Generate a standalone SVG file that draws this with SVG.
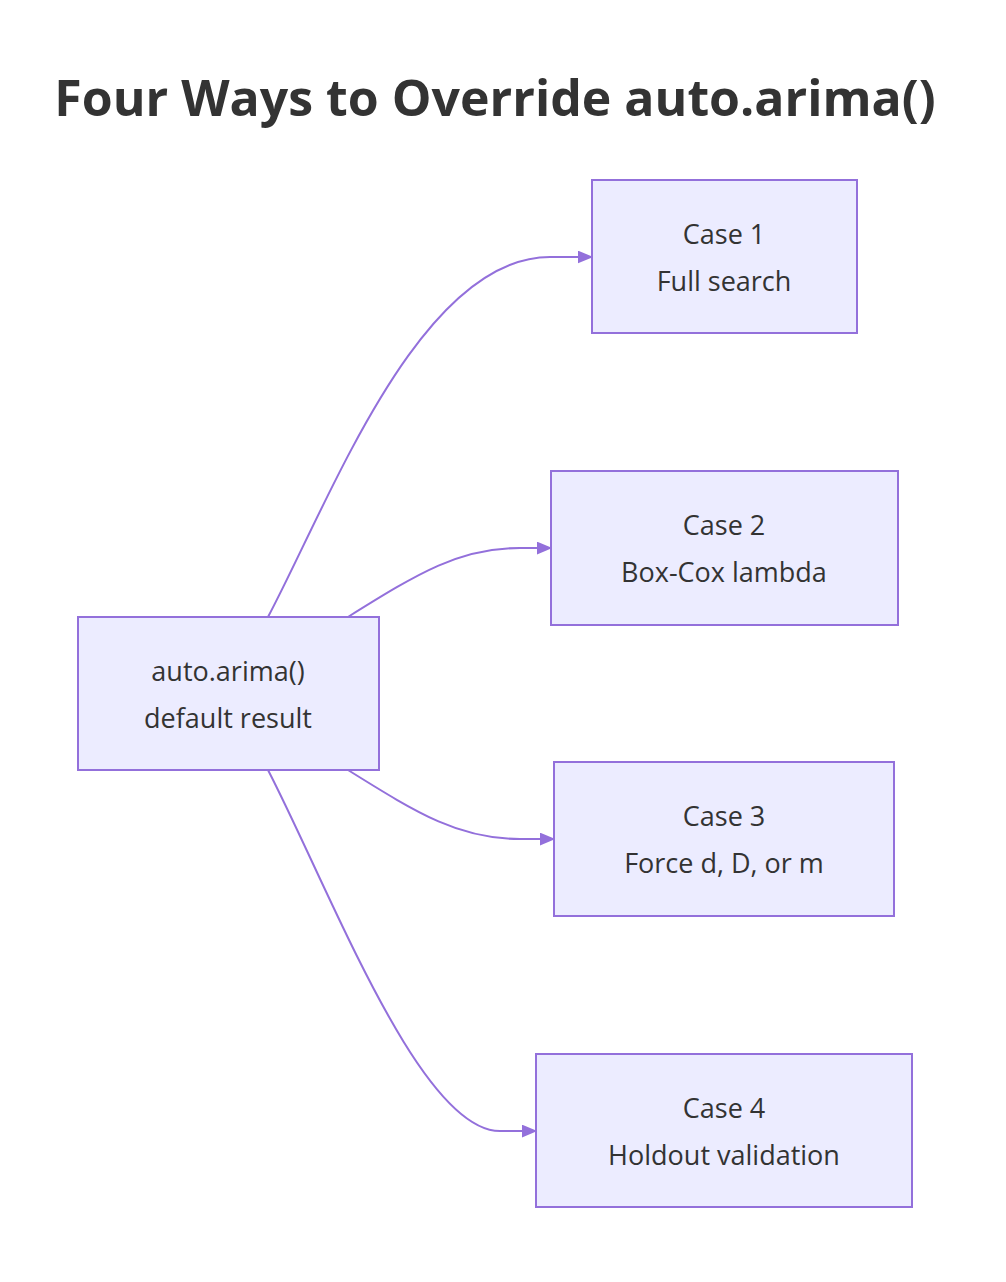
<svg xmlns="http://www.w3.org/2000/svg" width="1006" height="1282" viewBox="0 0 1006 1282">
<style>
.n{fill:#ECECFF;stroke:#9370DB;stroke-width:2}
.t{font-family:"Open Sans","Liberation Sans",sans-serif;font-size:27px;fill:#333;text-anchor:middle}
.e{fill:none;stroke:#9370DB;stroke-width:2}
</style>
<defs><marker id="a" viewBox="0 0 10 10" refX="9" refY="5" markerWidth="8" markerHeight="8" orient="auto" markerUnits="userSpaceOnUse"><path d="M0,0L10,5L0,10z" fill="#9370DB" transform="scale(1)"/></marker>
<marker id="b" viewBox="0 0 12 10" refX="11" refY="5" markerWidth="16" markerHeight="13" orient="auto" markerUnits="userSpaceOnUse"><path d="M0,0L12,5L0,10z" fill="#9370DB"/></marker></defs>
<rect width="1006" height="1282" fill="#fff"/>
<text x="495" y="116" style="font-family:'Open Sans','Liberation Sans',sans-serif;font-size:50px;font-weight:bold;fill:#333;text-anchor:middle">Four Ways to Override auto.arima()</text>
<g id="edges">
<path class="e" marker-end="url(#b)" d="M268,617 C330,500 420,257 550,257 L592,257"/>
<path class="e" marker-end="url(#b)" d="M348,617 C420,572 460,548 520,548 L551,548"/>
<path class="e" marker-end="url(#b)" d="M348,770 C420,815 460,839 520,839 L554,839"/>
<path class="e" marker-end="url(#b)" d="M268,770 C330,890 420,1131 500,1131 L536,1131"/>
</g>
<g id="src"><rect class="n" x="78" y="617" width="301" height="153"/><text class="t" x="228" y="681">auto.arima()</text><text class="t" x="228" y="728">default result</text></g>
<g id="c1"><rect class="n" x="592" y="180" width="265" height="153"/><text class="t" x="724" y="244">Case 1</text><text class="t" x="724" y="291">Full search</text></g>
<g id="c2"><rect class="n" x="551" y="471" width="347" height="154"/><text class="t" x="724" y="535">Case 2</text><text class="t" x="724" y="582">Box-Cox lambda</text></g>
<g id="c3"><rect class="n" x="554" y="762" width="340" height="154"/><text class="t" x="724" y="826">Case 3</text><text class="t" x="724" y="873">Force d, D, or m</text></g>
<g id="c4"><rect class="n" x="536" y="1054" width="376" height="153"/><text class="t" x="724" y="1118">Case 4</text><text class="t" x="724" y="1165">Holdout validation</text></g>
</svg>
